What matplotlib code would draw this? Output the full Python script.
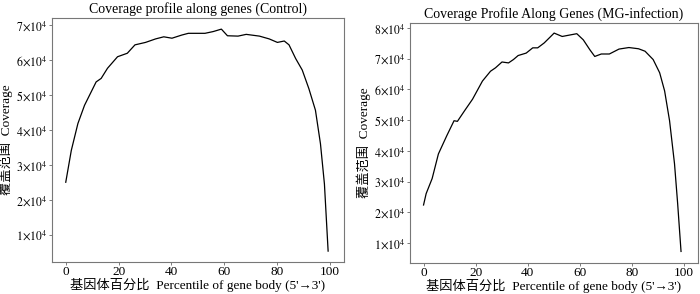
import matplotlib
matplotlib.use('Agg')
import matplotlib.pyplot as plt
from matplotlib.ticker import FuncFormatter

plt.rcParams['font.family'] = ['Liberation Serif', 'Noto Sans CJK SC', 'DejaVu Sans']
plt.rcParams['mathtext.fontset'] = 'stix'

# 数据：基因体百分比 -> 覆盖度（单位 1e4）
ctrl_x = [0, 2.1, 4.6, 7.1, 11.5, 13.4, 15.8, 19.6, 23.3, 26.2, 30.2, 34.0, 37.1, 40.2,
          43.9, 46.4, 49.6, 52.7, 55.8, 58.9, 61.2, 65.2, 68.3, 73.3, 77.0, 80.1, 82.7,
          84.5, 87.0, 89.5, 92.0, 94.5, 96.4, 97.9, 99.3]
ctrl_y = [2.50, 3.41, 4.18, 4.70, 5.37, 5.47, 5.76, 6.09, 6.19, 6.43, 6.50, 6.60, 6.66, 6.62,
          6.71, 6.76, 6.76, 6.76, 6.81, 6.88, 6.69, 6.68, 6.73, 6.68, 6.60, 6.50, 6.54,
          6.43, 6.04, 5.71, 5.18, 4.56, 3.60, 2.45, 0.53]

mg_x = [0, 1.0, 3.3, 5.7, 8.9, 11.7, 13.0, 15.7, 18.8, 22.6, 25.7, 27.6, 30.1, 32.6, 34.5,
        36.3, 39.4, 41.9, 43.8, 46.3, 49.4, 50.1, 53.2, 56.3, 58.8, 61.3, 63.8, 65.7, 68.2,
        71.3, 75.0, 78.8, 82.5, 85.0, 88.1, 90.6, 92.5, 94.4, 96.3, 97.5, 98.8]
mg_y = [2.24, 2.61, 3.10, 3.90, 4.49, 4.98, 4.96, 5.30, 5.68, 6.27, 6.59, 6.70, 6.89, 6.86, 6.97,
        7.10, 7.18, 7.35, 7.35, 7.51, 7.77, 7.83, 7.72, 7.77, 7.81, 7.61, 7.29, 7.07, 7.15,
        7.15, 7.31, 7.36, 7.32, 7.24, 6.97, 6.54, 5.95, 4.98, 3.58, 2.29, 0.73]

panels = [
    ('Coverage profile along genes (Control)', ctrl_x, ctrl_y, [1, 2, 3, 4, 5, 6, 7], (0.22, 7.2)),
    ('Coverage Profile Along Genes (MG-infection)', mg_x, mg_y, [1, 2, 3, 4, 5, 6, 7, 8], (0.35, 8.16)),
]
positions = [[0.0743, 0.109, 0.4171, 0.830], [0.5857, 0.105, 0.4114, 0.817]]

fig = plt.figure(figsize=(7, 2.94), dpi=100)
fmt = FuncFormatter(lambda v, p: r'$%d\!\times\!10^{4}$' % round(v))

for (title, xs, ys, yt, ylim), pos in zip(panels, positions):
    ax = fig.add_axes(pos)
    ax.plot(xs, ys, color='black', lw=0.9)
    ax.set_xlim(-5.2, 105.3)
    ax.set_ylim(*ylim)
    ax.set_xticks([0, 20, 40, 60, 80, 100])
    ax.set_yticks(yt)
    ax.yaxis.set_major_formatter(fmt)
    ax.tick_params(labelsize=8.5, length=2, width=0.6, color='#666666', pad=1)
    ax.tick_params(axis='x', labelsize=9.5)
    for s in ax.spines.values():
        s.set_color('#777777')
        s.set_linewidth(0.8)
    ax.set_title(title, fontsize=10, pad=4)
    ax.set_xlabel("基因体百分比  Percentile of gene body (5'→3')", fontsize=9.5, labelpad=0)
    ax.set_ylabel('覆盖范围  Coverage', fontsize=9.5, labelpad=2)

fig.savefig('out.png', dpi=100)
